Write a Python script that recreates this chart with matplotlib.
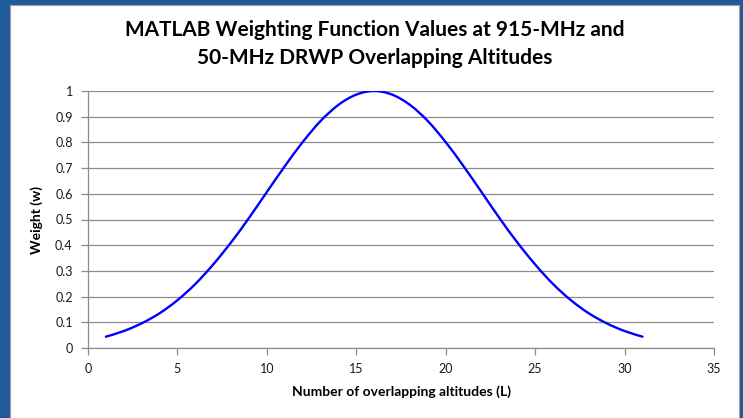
import matplotlib
matplotlib.use("Agg")
import matplotlib.pyplot as plt
from matplotlib.ticker import FuncFormatter
from matplotlib.path import Path
from matplotlib.patches import PathPatch

# Data
L_values = list(range(1, 32))
weights = [0.044, 0.066, 0.096, 0.135, 0.186, 0.249, 0.325, 0.411, 0.506, 0.607,
           0.707, 0.801, 0.883, 0.946, 0.986, 1.000, 0.986, 0.946, 0.883, 0.801,
           0.707, 0.607, 0.506, 0.411, 0.325, 0.249, 0.186, 0.135, 0.096, 0.066,
           0.044]
x_ticks = [0, 5, 10, 15, 20, 25, 30, 35]
y_ticks = [0, 0.1, 0.2, 0.3, 0.4, 0.5, 0.6, 0.7, 0.8, 0.9, 1.0]
title = "MATLAB Weighting Function Values at 915-MHz and\n50-MHz DRWP Overlapping Altitudes"
xlabel = "Number of overlapping altitudes (L)"
ylabel = "Weight (w)"

plt.rcParams['font.family'] = ['Lato', 'DejaVu Sans']

W, H = 743, 418
fig = plt.figure(figsize=(W / 100, H / 100), dpi=100)
fig.patch.set_facecolor('#1F5B98')

# white chart area with thin gray border (background axes)
bg = fig.add_axes([10 / W, 0, (739 - 10) / W, (H - 5) / H], zorder=0)
bg.set_facecolor('white')
bg.set_xticks([])
bg.set_yticks([])
for s in bg.spines.values():
    s.set_color('#A0A0A0')
    s.set_linewidth(0.8)

ax = fig.add_axes([88 / W, 70 / H, (714 - 88) / W, (348 - 91) / H], zorder=1)
ax.set_facecolor('none')


def smooth_path(xs, ys):
    """Excel-style smoothed line: Catmull-Rom segments as cubic Beziers."""
    verts = [(xs[0], ys[0])]
    codes = [Path.MOVETO]
    n = len(xs)
    for i in range(n - 1):
        x0, y0 = (xs[i - 1], ys[i - 1]) if i > 0 else (xs[i], ys[i])
        x1, y1 = xs[i], ys[i]
        x2, y2 = xs[i + 1], ys[i + 1]
        x3, y3 = (xs[i + 2], ys[i + 2]) if i + 2 < n else (x2, y2)
        c1 = (x1 + (x2 - x0) / 6, y1 + (y2 - y0) / 6)
        c2 = (x2 - (x3 - x1) / 6, y2 - (y3 - y1) / 6)
        verts += [c1, c2, (x2, y2)]
        codes += [Path.CURVE4] * 3
    return Path(verts, codes)


ax.add_patch(PathPatch(smooth_path(L_values, weights), transform=ax.transData,
                       facecolor='none', edgecolor='#0000FF', linewidth=1.7,
                       capstyle='round', joinstyle='round', zorder=3))

ax.set_xlim(0, 35)
ax.set_ylim(0, 1)
ax.set_xticks(x_ticks)
ax.set_yticks(y_ticks)
ax.yaxis.set_major_formatter(FuncFormatter(lambda v, p: f"{v:g}"))
ax.grid(axis='y', color='#8C8C8C', linewidth=0.9)
ax.set_axisbelow(True)
for s in ['top', 'right']:
    ax.spines[s].set_visible(False)
for s in ['left', 'bottom']:
    ax.spines[s].set_color('#8C8C8C')
    ax.spines[s].set_linewidth(0.9)
ax.tick_params(axis='both', direction='out', length=5, width=0.9, color='#8C8C8C',
               labelsize=9, labelcolor='#1a1a1a')
ax.tick_params(axis='x', pad=6)
ax.tick_params(axis='y', pad=6)

fig.text(375 / W, 1 - 44 / H, title, ha='center', va='center', fontsize=15,
         fontweight='bold', linespacing=1.5, color='black')
ax.set_xlabel(xlabel, fontsize=10, fontweight='bold', labelpad=7)
ax.set_ylabel(ylabel, fontsize=10, fontweight='bold', labelpad=9)

fig.savefig('out.png', dpi=100, facecolor=fig.get_facecolor())
